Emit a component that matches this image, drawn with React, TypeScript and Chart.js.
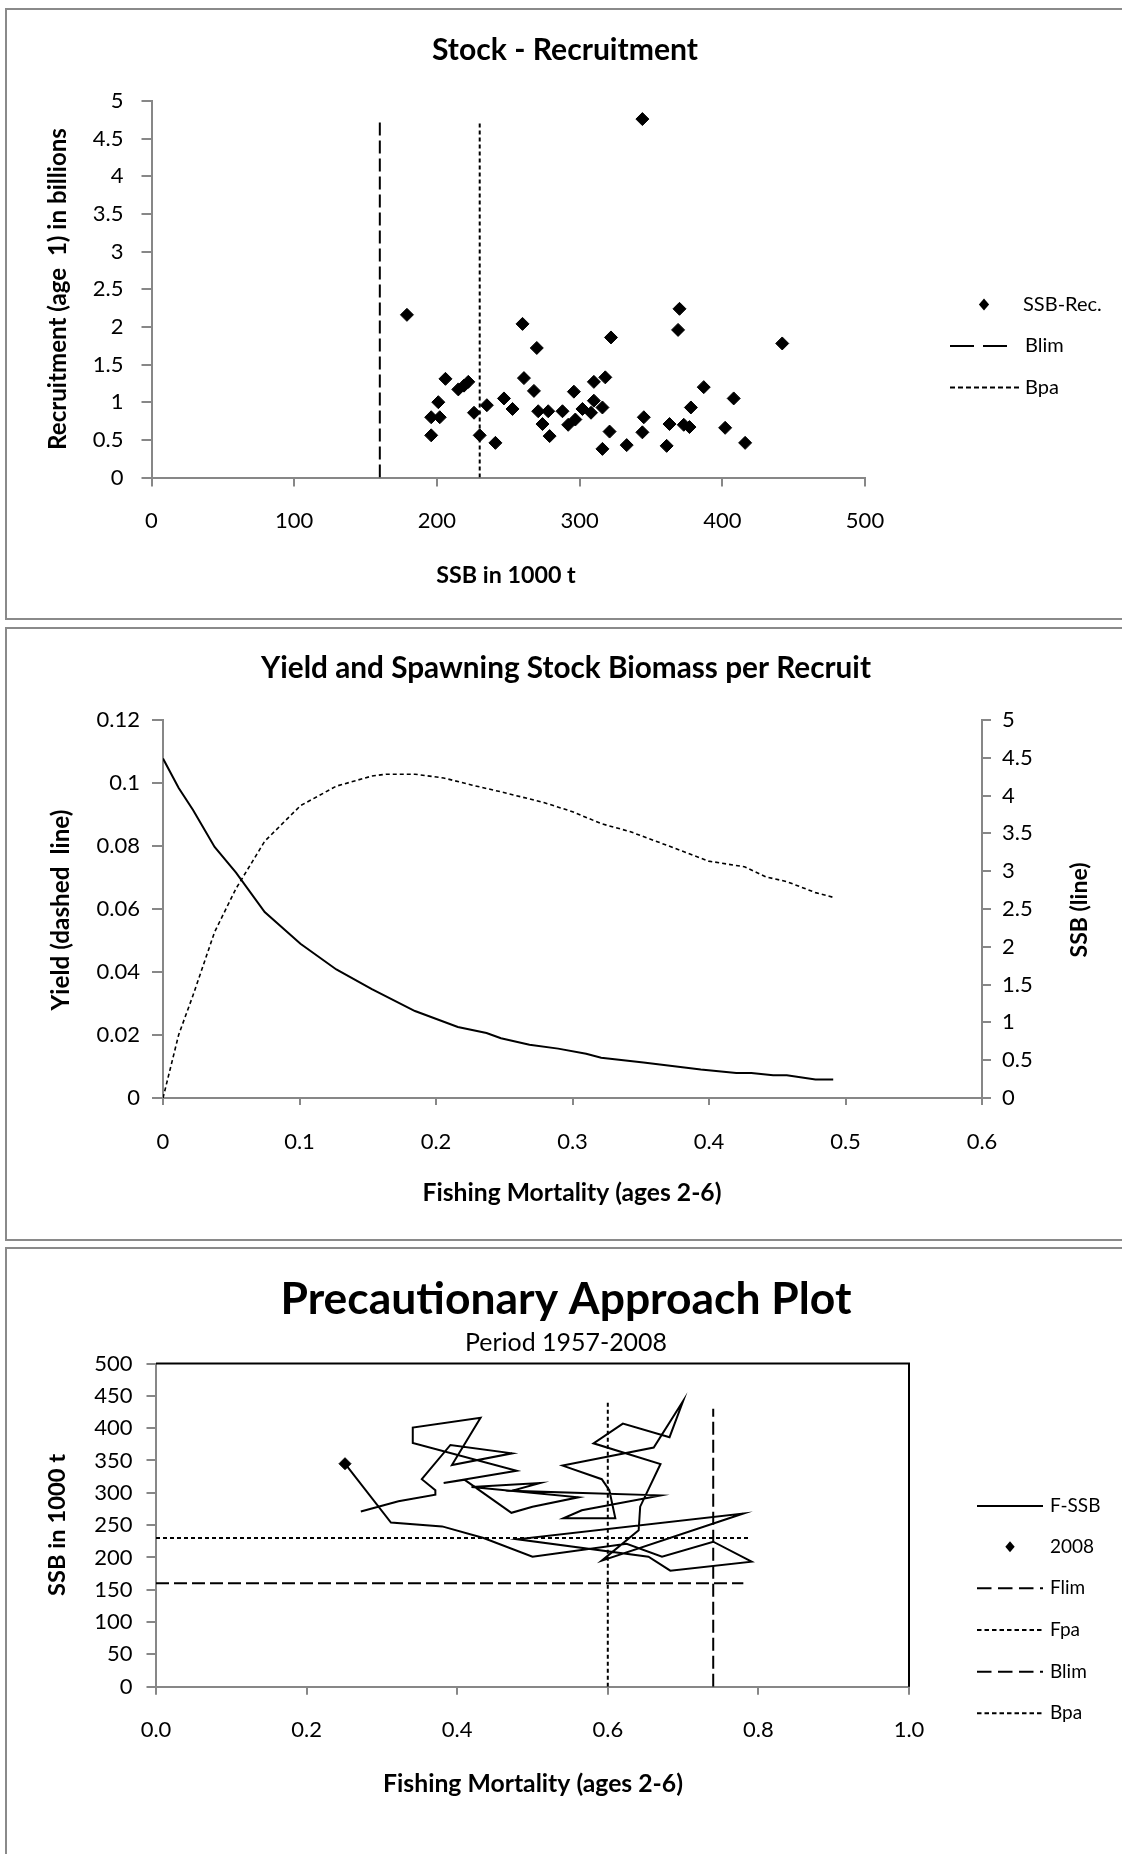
import React, { useEffect, useRef } from "react";
import { Chart, registerables } from "chart.js";

Chart.register(...registerables);

// ===================== DATA =====================
// Panel 1: Stock - Recruitment
const SR_SSB = [179, 260, 370, 369, 322, 270, 442, 206, 215, 219, 222, 261, 268, 310, 318, 296, 387, 408, 201, 196, 202, 196, 226, 235, 230, 241, 247, 253, 271, 278, 274, 279, 288, 292, 297, 302, 308, 310, 316, 316, 321, 333, 344, 345, 361, 363, 373, 377, 378, 402, 416, 344];
const SR_REC = [2.16, 2.04, 2.24, 1.96, 1.86, 1.72, 1.78, 1.31, 1.17, 1.22, 1.27, 1.32, 1.15, 1.27, 1.33, 1.14, 1.2, 1.05, 1.0, 0.8, 0.8, 0.56, 0.86, 0.96, 0.56, 0.46, 1.05, 0.91, 0.88, 0.88, 0.71, 0.55, 0.88, 0.7, 0.77, 0.91, 0.86, 1.02, 0.93, 0.38, 0.61, 0.43, 0.6, 0.8, 0.42, 0.71, 0.7, 0.67, 0.93, 0.66, 0.46, 4.76];
const SR_BLIM = [160, 160];
const SR_BLIM_REC = [0, 4.78];
const SR_BPA = [230, 230];
const SR_BPA_REC = [0, 4.73];
const SR_X_TICKS = [0, 100, 200, 300, 400, 500];
const SR_Y_TICKS = [0, 0.5, 1, 1.5, 2, 2.5, 3, 3.5, 4, 4.5, 5];
const SR_LABELS = ["SSB-Rec.", "Blim", "Bpa"];

// Panel 2: Yield and SSB per recruit
const YPR_F = [0, 0.0115, 0.022, 0.0378, 0.0535, 0.0745, 0.1007, 0.127, 0.153, 0.1636, 0.1846, 0.2056, 0.2266, 0.2476, 0.279, 0.3, 0.321, 0.342, 0.373, 0.3997, 0.426, 0.4416, 0.457, 0.478, 0.491];
const YPR_YIELD = [0, 0.0201, 0.0326, 0.0527, 0.0665, 0.0815, 0.0928, 0.099, 0.1022, 0.1028, 0.1028, 0.1016, 0.0993, 0.0972, 0.0938, 0.0909, 0.0871, 0.0846, 0.0796, 0.0752, 0.0734, 0.0702, 0.0687, 0.0652, 0.0637];
const SPR_F = [0, 0.0115, 0.022, 0.0378, 0.0535, 0.0745, 0.1007, 0.127, 0.153, 0.1846, 0.216, 0.237, 0.2476, 0.2685, 0.2895, 0.31, 0.321, 0.352, 0.394, 0.42, 0.431, 0.447, 0.457, 0.478, 0.491];
const SPR_SSB = [4.49, 4.1, 3.81, 3.32, 2.98, 2.46, 2.04, 1.7, 1.44, 1.15, 0.94, 0.86, 0.79, 0.705, 0.653, 0.585, 0.533, 0.47, 0.376, 0.33, 0.33, 0.3, 0.3, 0.246, 0.246];
const YPR_X_TICKS = [0, 0.1, 0.2, 0.3, 0.4, 0.5, 0.6];
const YPR_Y_TICKS = [0, 0.02, 0.04, 0.06, 0.08, 0.1, 0.12];
const SPR_Y_TICKS = [0, 0.5, 1, 1.5, 2, 2.5, 3, 3.5, 4, 4.5, 5];

// Panel 3: Precautionary approach plot
const PA_F = [0.272, 0.322, 0.371, 0.371, 0.353, 0.391, 0.473, 0.393, 0.431, 0.341, 0.341, 0.479, 0.382, 0.41, 0.472, 0.5, 0.561, 0.419, 0.51, 0.4725, 0.67, 0.5655, 0.541, 0.61, 0.602, 0.592, 0.54, 0.661, 0.7, 0.682, 0.62, 0.581, 0.67, 0.643, 0.641, 0.592, 0.78, 0.48, 0.654, 0.683, 0.791, 0.74, 0.672, 0.625, 0.5, 0.435, 0.38, 0.312, 0.251];
const PA_SSB = [271, 287, 297, 304, 321, 374, 361, 343, 416, 401, 377, 334, 315, 320, 269, 278.5, 293, 309, 315, 303, 296, 273, 260.5, 260.5, 304, 321, 342, 370, 442, 386, 407, 376.5, 344.5, 278.5, 242, 195, 268, 228, 201, 179.5, 193.4, 224.3, 201, 221, 201, 230, 248, 254, 345];
const PA_FLIM_F = [0.74, 0.74];
const PA_FLIM_SSB = [0, 430];
const PA_FPA_F = [0.6, 0.6];
const PA_FPA_SSB = [0, 440];
const PA_BLIM_F = [0, 0.78];
const PA_BLIM_SSB = [160, 160];
const PA_BPA_F = [0, 0.79];
const PA_BPA_SSB = [230, 230];
const PA_X_TICKS = [0, 0.2, 0.4, 0.6, 0.8, 1.0];
const PA_Y_TICKS = [0, 50, 100, 150, 200, 250, 300, 350, 400, 450, 500];
const PA_LABELS = ["F-SSB", "2008", "Flim", "Fpa", "Blim", "Bpa"];

// ===================== STYLE / LAYOUT =====================
const W = 1122;
const H = 1854;
const FONT = "Lato, 'Noto Sans', sans-serif";
const GRAY = "#878787";
const BLACK = "#000000";
const TICK_SIZE = 22;
const AXIS_W = 95;
const AXIS_H = 75;

const pts = (xs: number[], ys: number[]) => xs.map((x, i) => ({ x, y: ys[i] }));
const fmtNum = (v: number) => String(+v.toFixed(4));
const fmt1 = (v: number) => v.toFixed(1);

type TextItem = { text: string; x: number; y: number; w: number; bold?: boolean; rot?: boolean };
type LegItem = { label: string; kind: "line" | "diamond"; y: number; tx: number; x1?: number; x2?: number; cx?: number; r?: number; dash?: number[]; lw?: number };
type PageCfg = { texts: TextItem[]; legend: LegItem[]; legendSize: number; frame?: boolean };

function pagePlugin(cfg: PageCfg) {
  return {
    id: "pageText",
    afterDraw(chart: any) {
      const ctx: CanvasRenderingContext2D = chart.ctx;
      ctx.save();
      ctx.fillStyle = BLACK;
      ctx.strokeStyle = BLACK;
      if (cfg.frame) {
        const a = chart.chartArea;
        ctx.lineWidth = 2;
        ctx.setLineDash([]);
        ctx.beginPath();
        ctx.moveTo(a.left, a.top);
        ctx.lineTo(a.right, a.top);
        ctx.lineTo(a.right, a.bottom);
        ctx.stroke();
      }
      for (const t of cfg.texts) {
        const wt = t.bold ? "bold " : "";
        ctx.font = `${wt}20px ${FONT}`;
        const m = ctx.measureText(t.text).width;
        const size = (20 * t.w) / m;
        ctx.font = `${wt}${size.toFixed(2)}px ${FONT}`;
        ctx.textAlign = "center";
        ctx.textBaseline = "middle";
        if (t.rot) {
          ctx.save();
          ctx.translate(t.x, t.y);
          ctx.rotate(-Math.PI / 2);
          ctx.fillText(t.text, 0, 0);
          ctx.restore();
        } else {
          ctx.fillText(t.text, t.x, t.y);
        }
      }
      for (const l of cfg.legend) {
        if (l.kind === "line") {
          ctx.lineWidth = l.lw || 2;
          ctx.setLineDash(l.dash || []);
          ctx.beginPath();
          ctx.moveTo(l.x1!, l.y);
          ctx.lineTo(l.x2!, l.y);
          ctx.stroke();
          ctx.setLineDash([]);
        } else {
          const r = l.r || 5;
          const cx = l.cx!;
          ctx.beginPath();
          ctx.moveTo(cx, l.y - r);
          ctx.lineTo(cx + r * 0.85, l.y);
          ctx.lineTo(cx, l.y + r);
          ctx.lineTo(cx - r * 0.85, l.y);
          ctx.closePath();
          ctx.fill();
        }
        ctx.font = `${cfg.legendSize}px ${FONT}`;
        ctx.textAlign = "left";
        ctx.textBaseline = "middle";
        ctx.fillText(l.label, l.tx, l.y);
      }
      ctx.restore();
    },
  };
}

function axis(ticks: number[], pos: string, tickLen: number, pad: number, fmt: (v: number) => string) {
  const horiz = pos === "bottom" || pos === "top";
  return {
    type: "linear",
    position: pos,
    min: ticks[0],
    max: ticks[ticks.length - 1],
    afterBuildTicks: (s: any) => {
      s.ticks = ticks.map((v) => ({ value: v }));
    },
    afterFit: (s: any) => {
      if (horiz) s.height = AXIS_H;
      else s.width = AXIS_W;
    },
    ticks: {
      padding: pad,
      color: BLACK,
      font: { family: FONT, size: TICK_SIZE },
      maxRotation: 0,
      autoSkip: false,
      callback: (v: any) => fmt(Number(v)),
    },
    grid: { display: true, drawOnChartArea: false, drawTicks: true, tickLength: tickLen, color: GRAY, lineWidth: 2 },
    border: { display: true, color: GRAY, width: 2 },
  };
}

function baseOptions(plot: { l: number; r: number; t: number; b: number }, rightAxis: boolean) {
  return {
    animation: false,
    responsive: false,
    devicePixelRatio: 1,
    events: [],
    layout: {
      padding: {
        left: plot.l - AXIS_W,
        right: W - plot.r - (rightAxis ? AXIS_W : 0),
        top: plot.t,
        bottom: H - plot.b - AXIS_H,
      },
    },
    plugins: { legend: { display: false }, tooltip: { enabled: false }, title: { display: false } },
  };
}

function lineDs(label: string, data: any[], dash: number[], width: number, yAxisID?: string) {
  return {
    label,
    data,
    showLine: true,
    borderColor: BLACK,
    backgroundColor: BLACK,
    borderWidth: width,
    borderDash: dash,
    pointRadius: 0,
    tension: 0,
    fill: false,
    ...(yAxisID ? { yAxisID } : {}),
  };
}

function chart1Config(): any {
  const plot = { l: 151.5, r: 865, t: 101, b: 477.5 };
  return {
    type: "scatter",
    data: {
      datasets: [
        {
          label: SR_LABELS[0],
          data: pts(SR_SSB, SR_REC),
          pointStyle: "rectRot",
          pointRadius: 6.5,
          pointBorderWidth: 1,
          borderColor: BLACK,
          backgroundColor: BLACK,
          showLine: false,
        },
        lineDs(SR_LABELS[1], pts(SR_BLIM, SR_BLIM_REC), [13, 5], 2),
        lineDs(SR_LABELS[2], pts(SR_BPA, SR_BPA_REC), [4, 3], 2),
      ],
    },
    options: {
      ...baseOptions(plot, false),
      scales: {
        x: axis(SR_X_TICKS, "bottom", 9, 21, fmtNum),
        y: axis(SR_Y_TICKS, "left", 10, 18, fmtNum),
      },
    },
    plugins: [
      pagePlugin({
        texts: [
          { text: "Stock - Recruitment", x: 565, y: 50, w: 266, bold: true },
          { text: "Recruitment (age  1) in billions", x: 58, y: 289, w: 322, bold: true, rot: true },
          { text: "SSB in 1000 t", x: 506, y: 575.5, w: 139.5, bold: true },
        ],
        legendSize: 20,
        legend: [
          { label: SR_LABELS[0], kind: "diamond", cx: 984, r: 6, y: 304.5, tx: 1023 },
          { label: SR_LABELS[1], kind: "line", x1: 950, x2: 1016, y: 346, dash: [24, 9], tx: 1025 },
          { label: SR_LABELS[2], kind: "line", x1: 950, x2: 1020, y: 387.5, dash: [5, 3], tx: 1025 },
        ],
      }),
    ],
  };
}

function chart2Config(): any {
  const plot = { l: 163, r: 982, t: 720, b: 1098 };
  return {
    type: "scatter",
    data: {
      datasets: [
        lineDs("SSB", pts(SPR_F, SPR_SSB), [], 2, "y2"),
        lineDs("Yield", pts(YPR_F, YPR_YIELD), [4, 3], 1.6, "y"),
      ],
    },
    options: {
      ...baseOptions(plot, true),
      scales: {
        x: axis(YPR_X_TICKS, "bottom", 7, 24, fmtNum),
        y: axis(YPR_Y_TICKS, "left", 11, 12, fmtNum),
        y2: axis(SPR_Y_TICKS, "right", 9, 11, fmtNum),
      },
    },
    plugins: [
      pagePlugin({
        texts: [
          { text: "Yield and Spawning Stock Biomass per Recruit", x: 566, y: 668, w: 610, bold: true },
          { text: "Yield (dashed  line)", x: 61, y: 910, w: 201, bold: true, rot: true },
          { text: "SSB (line)", x: 1080, y: 910, w: 95, bold: true, rot: true },
          { text: "Fishing Mortality (ages 2-6)", x: 572, y: 1193, w: 299, bold: true },
        ],
        legendSize: 20,
        legend: [],
      }),
    ],
  };
}

function chart3Config(): any {
  const plot = { l: 156, r: 909, t: 1363.5, b: 1686.7 };
  const last = PA_F.length - 1;
  return {
    type: "scatter",
    data: {
      datasets: [
        {
          label: PA_LABELS[1],
          data: [{ x: PA_F[last], y: PA_SSB[last] }],
          pointStyle: "rectRot",
          pointRadius: 6,
          pointBorderWidth: 1,
          borderColor: BLACK,
          backgroundColor: BLACK,
          showLine: false,
        },
        lineDs(PA_LABELS[0], pts(PA_F, PA_SSB), [], 2),
        lineDs(PA_LABELS[2], pts(PA_FLIM_F, PA_FLIM_SSB), [13, 5], 2),
        lineDs(PA_LABELS[3], pts(PA_FPA_F, PA_FPA_SSB), [4, 3], 2),
        lineDs(PA_LABELS[4], pts(PA_BLIM_F, PA_BLIM_SSB), [13, 5], 2),
        lineDs(PA_LABELS[5], pts(PA_BPA_F, PA_BPA_SSB), [4, 3], 2),
      ],
    },
    options: {
      ...baseOptions(plot, false),
      scales: {
        x: axis(PA_X_TICKS, "bottom", 8, 22.5, fmt1),
        y: axis(PA_Y_TICKS, "left", 9.5, 14, fmtNum),
      },
    },
    plugins: [
      pagePlugin({
        frame: true,
        texts: [
          { text: "Precautionary Approach Plot", x: 566, y: 1300, w: 571, bold: true },
          { text: "Period 1957-2008", x: 566, y: 1343, w: 202 },
          { text: "SSB in 1000 t", x: 57, y: 1525, w: 142, bold: true, rot: true },
          { text: "Fishing Mortality (ages 2-6)", x: 533, y: 1784, w: 300, bold: true },
        ],
        legendSize: 19,
        legend: [
          { label: PA_LABELS[0], kind: "line", x1: 977, x2: 1043, y: 1506, tx: 1050 },
          { label: PA_LABELS[1], kind: "diamond", cx: 1010, r: 5.5, y: 1546.7, tx: 1050 },
          { label: PA_LABELS[2], kind: "line", x1: 977, x2: 1043, y: 1588.3, dash: [14.5, 6.5], tx: 1050 },
          { label: PA_LABELS[3], kind: "line", x1: 977, x2: 1043, y: 1630, dash: [4.5, 3], tx: 1050 },
          { label: PA_LABELS[4], kind: "line", x1: 977, x2: 1043, y: 1671.7, dash: [14.5, 6.5], tx: 1050 },
          { label: PA_LABELS[5], kind: "line", x1: 977, x2: 1043, y: 1713.3, dash: [4.5, 3], tx: 1050 },
        ],
      }),
    ],
  };
}

const panelStyle = (top: number, height: number): React.CSSProperties => ({
  position: "absolute",
  left: 5,
  top,
  width: 1200,
  height,
  border: "2px solid #8a8a8a",
  boxSizing: "border-box",
});

const canvasStyle: React.CSSProperties = {
  position: "absolute",
  left: 0,
  top: 0,
  width: W,
  height: H,
};

export default function App() {
  const c1 = useRef<HTMLCanvasElement>(null);
  const c2 = useRef<HTMLCanvasElement>(null);
  const c3 = useRef<HTMLCanvasElement>(null);

  useEffect(() => {
    const charts = [
      new Chart(c1.current as HTMLCanvasElement, chart1Config()),
      new Chart(c2.current as HTMLCanvasElement, chart2Config()),
      new Chart(c3.current as HTMLCanvasElement, chart3Config()),
    ];
    return () => charts.forEach((c) => c.destroy());
  }, []);

  return (
    <div style={{ position: "absolute", left: 0, top: 0, width: W, height: H, overflow: "hidden", background: "#fff" }}>
      <div style={panelStyle(8, 612)} />
      <div style={panelStyle(627, 614)} />
      <div style={panelStyle(1247, 700)} />
      <canvas ref={c1} width={W} height={H} style={canvasStyle} />
      <canvas ref={c2} width={W} height={H} style={canvasStyle} />
      <canvas ref={c3} width={W} height={H} style={canvasStyle} />
    </div>
  );
}
